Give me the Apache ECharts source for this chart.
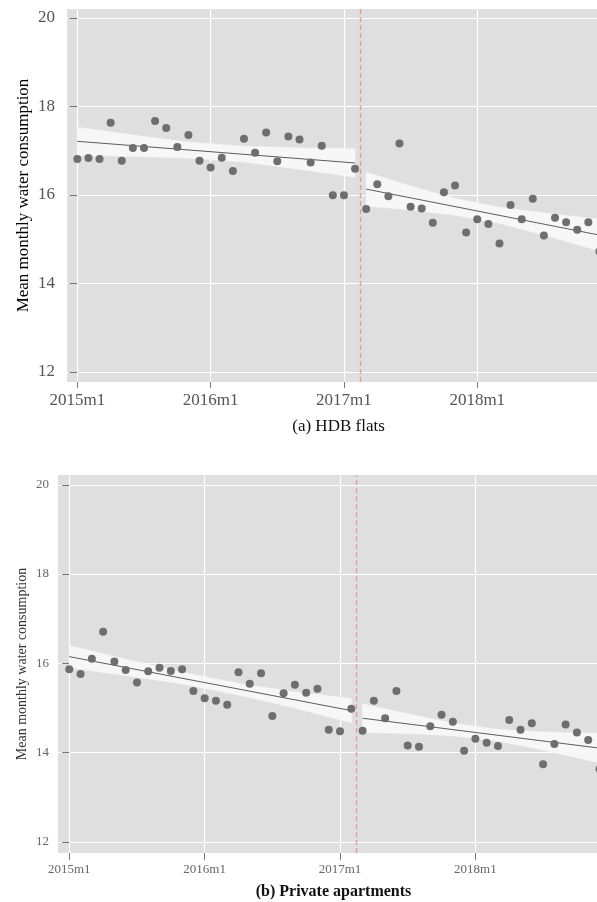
<!DOCTYPE html>
<html>
<head>
<meta charset="utf-8">
<script src="https://cdn.jsdelivr.net/npm/echarts@6/dist/echarts.min.js"></script>
<style>
  html, body { margin: 0; padding: 0; background: #fff; }
  #chart { width: 597px; height: 902px; }
</style>
</head>
<body>
<div id="chart"></div>
<script>
// Month index: 0 = 2015m1 ... 47 = 2018m12
const months = Array.from({ length: 48 }, (_, i) => i);

const hdbValues = [
  16.81, 16.83, 16.81, 17.63, 16.77, 17.06, 17.06, 17.67, 17.51, 17.08, 17.35, 16.77,
  16.62, 16.84, 16.54, 17.27, 16.95, 17.41, 16.76, 17.32, 17.25, 16.73, 17.11, 15.99,
  15.99, 16.59, 15.68, 16.24, 15.97, 17.16, 15.73, 15.69, 15.37, 16.06, 16.21, 15.15,
  15.45, 15.34, 14.90, 15.77, 15.45, 15.91, 15.08, 15.48, 15.38, 15.21, 15.38, 14.72
];

const privateValues = [
  15.87, 15.76, 16.10, 16.71, 16.04, 15.85, 15.57, 15.82, 15.90, 15.83, 15.87, 15.38,
  15.22, 15.16, 15.07, 15.80, 15.54, 15.78, 14.82, 15.33, 15.52, 15.34, 15.43, 14.51,
  14.48, 14.98, 14.49, 15.16, 14.77, 15.38, 14.16, 14.13, 14.59, 14.85, 14.69, 14.04,
  14.31, 14.22, 14.15, 14.73, 14.51, 14.66, 13.74, 14.19, 14.63, 14.45, 14.28, 13.63
];

// Linear fits before / after the price change (month index, fitted value)
const preX = [0, 25];
const postX = [26, 47];
const hdbPreFit = [17.21, 16.72];
const hdbPostFit = [16.13, 15.09];
const privPreFit = [16.15, 14.94];
const privPostFit = [14.77, 14.10];

// Confidence bands sampled along each segment
const bandPreX = [0, 5, 10, 15, 20, 25];
const bandPostX = [26, 30, 34, 38, 42, 47];
const hdbPreUpper = [17.53, 17.35, 17.19, 17.10, 17.06, 17.04];
const hdbPreLower = [16.89, 16.87, 16.83, 16.74, 16.58, 16.40];
const hdbPostUpper = [16.51, 16.20, 15.92, 15.72, 15.59, 15.45];
const hdbPostLower = [15.75, 15.66, 15.54, 15.36, 15.09, 14.73];
const privPreUpper = [16.40, 16.09, 15.80, 15.55, 15.36, 15.21];
const privPreLower = [15.90, 15.73, 15.54, 15.29, 15.00, 14.67];
const privPostUpper = [15.09, 14.87, 14.66, 14.52, 14.46, 14.43];
const privPostLower = [14.45, 14.43, 14.38, 14.26, 14.06, 13.77];

const policyMonth = 25.45;

const xTickValues = [0, 12, 24, 36];
const xTickLabels = ['2015m1', '2016m1', '2017m1', '2018m1'];
const yTickValues = [12, 14, 16, 18, 20];

const SERIF = 'Liberation Serif, Times New Roman, serif';
const BG = '#dfdfdf';
const DOT = '#6e6e6e';
const FIT = '#5c5c5c';
const BAND = '#f7f7f7';

const pairs = (xs, ys) => xs.map((x, i) => [x, ys[i]]);

function xAxisFor(gridIndex, min, max, fontSize, color, labelMargin, tickLen) {
  return {
    type: 'value', gridIndex, min, max,
    axisLine: { show: false },
    axisTick: { show: true, length: tickLen, customValues: xTickValues, lineStyle: { color: '#777' } },
    axisLabel: {
      customValues: xTickValues, fontFamily: SERIF, fontSize, color, margin: labelMargin,
      formatter: v => xTickLabels[xTickValues.indexOf(v)] || ''
    },
    splitLine: { show: true, lineStyle: { color: '#ffffff', width: 1.2 } }
  };
}

function yAxisFor(gridIndex, min, max, fontSize, color, labelMargin, nameSize, nameColor, nameGap, tickLen) {
  return {
    type: 'value', gridIndex, min, max,
    axisLine: { show: false },
    axisTick: { show: true, length: tickLen, customValues: yTickValues, lineStyle: { color: '#777' } },
    axisLabel: { customValues: yTickValues, fontFamily: SERIF, fontSize, color, margin: labelMargin },
    splitLine: { show: true, lineStyle: { color: '#ffffff', width: 1.2 } },
    name: 'Mean monthly water consumption', nameLocation: 'middle', nameGap,
    nameMoveOverlap: false,
    nameTextStyle: { fontFamily: SERIF, fontSize: nameSize, color: nameColor }
  };
}

// Band drawn as consecutive quads: [x0, lo0, up0, x1, lo1, up1]
function bandSeries(idx, xs, lower, upper) {
  const quads = [];
  for (let i = 0; i < xs.length - 1; i++) {
    quads.push([xs[i], lower[i], upper[i], xs[i + 1], lower[i + 1], upper[i + 1]]);
  }
  return {
    type: 'custom', xAxisIndex: idx, yAxisIndex: idx, silent: true, z: 1, clip: false,
    data: quads,
    encode: { x: [0, 3], y: [1, 2, 4, 5] },
    renderItem: (params, api) => {
      const pts = [
        api.coord([api.value(0), api.value(1)]),
        api.coord([api.value(0), api.value(2)]),
        api.coord([api.value(3), api.value(5)]),
        api.coord([api.value(3), api.value(4)])
      ];
      return {
        type: 'polygon',
        shape: { points: pts },
        style: { fill: BAND, stroke: BAND, lineWidth: 0.6 }
      };
    }
  };
}

function fitSeries(idx, xs, ys) {
  return {
    type: 'line', xAxisIndex: idx, yAxisIndex: idx, data: pairs(xs, ys),
    symbol: 'none', lineStyle: { color: FIT, width: 1 }, z: 2, silent: true, clip: false
  };
}

function panelSeries(idx, values, preFit, postFit, preUp, preLo, postUp, postLo) {
  return [
    bandSeries(idx, bandPreX, preLo, preUp),
    bandSeries(idx, bandPostX, postLo, postUp),
    fitSeries(idx, preX, preFit),
    fitSeries(idx, postX, postFit),
    {
      type: 'scatter', xAxisIndex: idx, yAxisIndex: idx, clip: false,
      data: pairs(months, values), symbolSize: 8,
      itemStyle: { color: DOT, opacity: 1 }, z: 3,
      markLine: {
        silent: true, symbol: 'none', label: { show: false },
        lineStyle: { color: '#e59a94', type: [5, 3], width: 1.3 },
        data: [{ xAxis: policyMonth }]
      }
    }
  ];
}

const chart = echarts.init(document.getElementById('chart'), null, { renderer: 'canvas' });
chart.setOption({
  animation: false,
  backgroundColor: '#ffffff',
  title: [
    {
      text: '(a) HDB flats', left: 333.5, top: 413, textAlign: 'center',
      textStyle: { fontFamily: SERIF, fontSize: 17, fontWeight: 'normal', color: '#111' }
    },
    {
      text: '(b) Private apartments', left: 328.5, top: 879, textAlign: 'center',
      textStyle: { fontFamily: SERIF, fontSize: 16, fontWeight: 'bold', color: '#111' }
    }
  ],
  grid: [
    { left: 67, top: 9, right: 0, height: 373, show: true, backgroundColor: BG, borderWidth: 0 },
    { left: 58, top: 475, right: 0, height: 378, show: true, backgroundColor: BG, borderWidth: 0 }
  ],
  xAxis: [
    xAxisFor(0, -0.93, 46.78, 17, '#555', 10, 6),
    xAxisFor(1, -1.0, 46.78, 13, '#666', 10, 7)
  ],
  yAxis: [
    yAxisFor(0, 11.77, 20.2, 17, '#555', 12, 17, '#000', 35, 8),
    yAxisFor(1, 11.75, 20.22, 13, '#666', 9, 14, '#333', 29, 7)
  ],
  series: [
    ...panelSeries(0, hdbValues, hdbPreFit, hdbPostFit, hdbPreUpper, hdbPreLower, hdbPostUpper, hdbPostLower),
    ...panelSeries(1, privateValues, privPreFit, privPostFit, privPreUpper, privPreLower, privPostUpper, privPostLower)
  ]
});
</script>
</body>
</html>
